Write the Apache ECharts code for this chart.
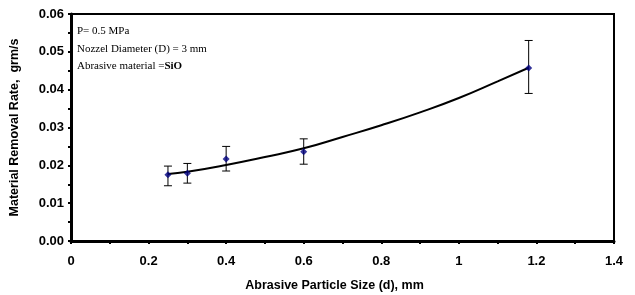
<!DOCTYPE html>
<html>
<head>
<meta charset="utf-8">
<script src="https://cdn.jsdelivr.net/npm/echarts@6/dist/echarts.min.js"></script>
<style>
  html, body { margin: 0; padding: 0; background: #fff; }
  #ech { width: 635px; height: 295px; }
</style>
</head>
<body>
<div id="ech"></div>
<script>
// measured points (particle size, mm) and removal rate with error limits
var sizes = [0.25, 0.3, 0.4, 0.6, 1.18];
var rates = [0.0175, 0.0179, 0.0217, 0.0236, 0.0457];
var errTop = [0.0198, 0.0205, 0.0250, 0.0270, 0.0530];
var errBottom = [0.0146, 0.0153, 0.0185, 0.0203, 0.0390];

// trend curve
var trendX = [0.25, 0.3, 0.4, 0.5, 0.6, 0.7, 0.8, 0.9, 1.0, 1.1, 1.18];
var trendY = [0.0177, 0.0183, 0.0201, 0.0222, 0.0245, 0.0275, 0.0306, 0.0340, 0.0378, 0.0422, 0.0458];

var xTicks = [0, 0.2, 0.4, 0.6, 0.8, 1, 1.2, 1.4];
var yTicks = [0, 0.01, 0.02, 0.03, 0.04, 0.05, 0.06];

var notes = ['P= 0.5 MPa', 'Nozzel Diameter (D) = 3 mm', 'Abrasive material ='];

var ownChart = echarts.init(document.getElementById('ech'));

var points = sizes.map(function (x, i) { return [x, rates[i]]; });
var bars = sizes.map(function (x, i) { return [x, errBottom[i], errTop[i]]; });
var trend = trendX.map(function (x, i) { return [x, trendY[i]]; });

var labelFont = { fontFamily: 'Liberation Sans, Arial', fontWeight: 'bold', fontSize: 13, color: '#000' };
var titleFont = { fontFamily: 'Liberation Sans, Arial', fontWeight: 'bold', fontSize: 12.5, color: '#000' };
var noteFont = { fontFamily: 'Liberation Serif', fontSize: 11, fill: '#000' };

var option = {
    animation: false,
    grid: {
        left: 71, right: 21, top: 14, bottom: 54,
        outerBoundsMode: 'none', containLabel: false,
        show: true, borderColor: '#000', borderWidth: 2
    },
    xAxis: {
        type: 'value',
        min: xTicks[0],
        max: xTicks[xTicks.length - 1],
        interval: 0.2,
        name: 'Abrasive Particle Size (d), mm',
        nameLocation: 'middle',
        nameGap: 38,
        nameTextStyle: Object.assign({ padding: [0, 16, 0, 0] }, titleFont),
        axisLine: { lineStyle: { color: '#000', width: 3 } },
        axisTick: { show: true, length: 3, lineStyle: { color: '#000', width: 2 } },
        minorTick: { show: true, splitNumber: 2, length: 3, lineStyle: { color: '#000', width: 2 } },
        splitLine: { show: false },
        axisLabel: Object.assign({ margin: 14, formatter: function (v) { return String(+v.toFixed(1)); } }, labelFont)
    },
    yAxis: {
        type: 'value',
        min: yTicks[0],
        max: yTicks[yTicks.length - 1],
        interval: 0.01,
        name: 'Material Removal Rate,  grm/s',
        nameLocation: 'middle',
        nameGap: 50,
        nameTextStyle: titleFont,
        axisLine: { lineStyle: { color: '#000', width: 3 } },
        axisTick: { show: true, length: 3, lineStyle: { color: '#000', width: 2 } },
        minorTick: { show: true, splitNumber: 2, length: 3, lineStyle: { color: '#000', width: 2 } },
        splitLine: { show: false },
        axisLabel: Object.assign({ margin: 7, formatter: function (v) { return v.toFixed(2); } }, labelFont)
    },
    graphic: [{
        type: 'group',
        left: 77,
        top: 26,
        children: notes.map(function (t, i) {
            return {
                type: 'text',
                left: 0,
                top: i * 17.5,
                style: i === 2 ? {
                    text: '{n|' + t + '}{b|SiO}',
                    rich: {
                        n: noteFont,
                        b: Object.assign({ fontWeight: 'bold' }, noteFont)
                    }
                } : Object.assign({ text: t }, noteFont)
            };
        })
    }],
    series: [{
        type: 'line',
        data: trend,
        smooth: true,
        symbol: 'none',
        lineStyle: { color: '#000', width: 2 },
        z: 2
    }, {
        type: 'custom',
        data: bars,
        renderItem: function (params, api) {
            var lo = api.coord([api.value(0), api.value(1)]);
            var hi = api.coord([api.value(0), api.value(2)]);
            var w = 4;
            var st = { stroke: '#000', lineWidth: 1 };
            return {
                type: 'group',
                children: [
                    { type: 'line', shape: { x1: lo[0], y1: lo[1], x2: hi[0], y2: hi[1] }, style: st },
                    { type: 'line', shape: { x1: lo[0] - w, y1: lo[1], x2: lo[0] + w, y2: lo[1] }, style: st },
                    { type: 'line', shape: { x1: hi[0] - w, y1: hi[1], x2: hi[0] + w, y2: hi[1] }, style: st }
                ]
            };
        },
        z: 3
    }, {
        type: 'scatter',
        data: points,
        symbol: 'diamond',
        symbolSize: 7,
        itemStyle: { color: '#000080' },
        z: 4
    }]
};

ownChart.setOption(option);
</script>
</body>
</html>
